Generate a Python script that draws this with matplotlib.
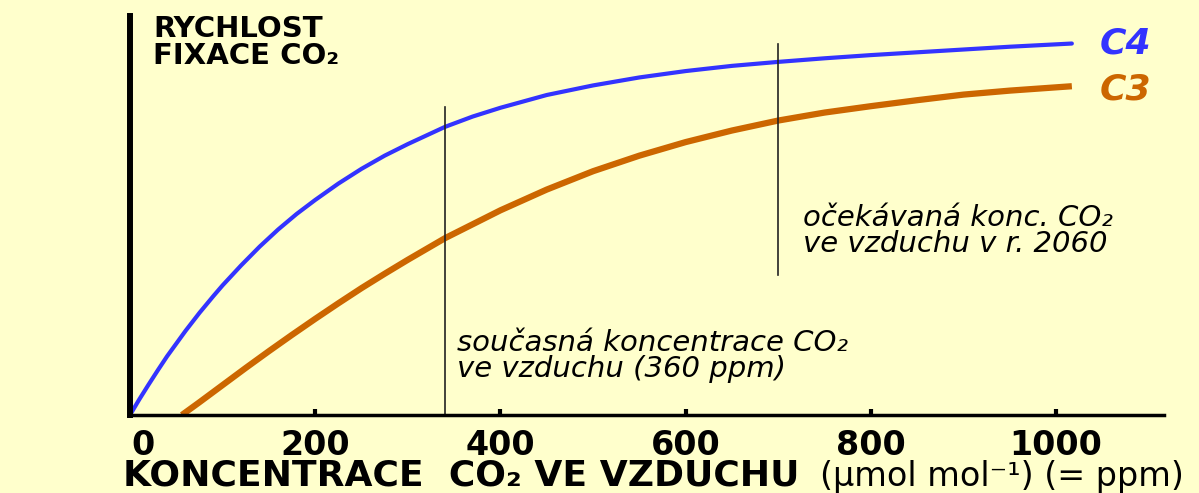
import matplotlib.pyplot as plt
from matplotlib.transforms import ScaledTranslation

# values (y in relative units 0-100, x in ppm)
c4_x = [0, 10, 20, 30, 40, 50, 60, 75, 90, 100, 120, 140, 160, 180, 200, 225, 250, 275,
        300, 340, 370, 400, 450, 500, 550, 600, 650, 700, 750, 800, 850, 900, 950, 1017]
c4_y = [0, 3.9, 7.6, 11.2, 14.7, 17.9, 21.1, 25.6, 29.8, 32.5, 37.5, 42.2, 46.5, 50.4,
        53.9, 58.0, 61.7, 65.0, 67.9, 72.2, 74.8, 77.0, 80.2, 82.6, 84.6, 86.2, 87.5,
        88.5, 89.4, 90.2, 90.9, 91.6, 92.3, 93.1]

c3_x = [56, 75, 100, 125, 150, 175, 200, 225, 250, 275, 300, 340, 400, 450, 500, 550,
        600, 650, 700, 750, 800, 850, 900, 950, 1017]
c3_y = [0, 3.2, 7.5, 11.8, 16.0, 20.1, 24.1, 28.0, 31.8, 35.4, 38.9, 44.3, 51.3, 56.5,
        61.1, 65.0, 68.4, 71.3, 73.8, 75.8, 77.4, 78.9, 80.3, 81.3, 82.4]

now_x = 340              # current concentration marker
now_span = [0, 77.2]
future_x = 700           # expected concentration in 2060
future_span = [35.1, 93.0]

tick_vals = [0, 200, 400, 600, 800, 1000]
tick_labels = ['0', '200', '400', '600', '800', '1000']

bg = '#ffffcc'
blue = '#3333ff'
orange = '#cc6600'

W, H = 1199, 493


def fx(px):
    return px / W


def fy(py):
    return 1 - py / H


fig = plt.figure(figsize=(W / 100, H / 100), dpi=100, facecolor=bg)
ax = fig.add_axes([fx(130), fy(415), fx(1164) - fx(130), fy(16) - fy(415)])
ax.set_facecolor(bg)

ax.plot(c4_x, c4_y, color=blue, lw=3, solid_capstyle='round', solid_joinstyle='round')
ax.plot(c3_x, c3_y, color=orange, lw=4.5, solid_capstyle='butt', solid_joinstyle='round')
ax.plot([now_x, now_x], now_span, color='#222222', lw=1.2)
ax.plot([future_x, future_x], future_span, color='#222222', lw=1.2)

ax.set_xlim(0, 1116.5)
ax.set_ylim(0, 100)

for s in ['top', 'right']:
    ax.spines[s].set_visible(False)
ax.spines['left'].set_linewidth(4.3)
ax.spines['bottom'].set_linewidth(2.5)

ax.set_yticks([])
ax.set_xticks(tick_vals)
ax.set_xticklabels(tick_labels, fontsize=24, fontweight='bold')
ax.tick_params(axis='x', direction='in', length=4.5, width=3, pad=10)
lab0 = ax.get_xticklabels()[0]
lab0.set_transform(lab0.get_transform() + ScaledTranslation(0.13, 0, fig.dpi_scale_trans))

# axis titles (va='baseline' puts the last line on the given y)
fig.text(fx(153), fy(64), 'RYCHLOST\nFIXACE CO\u2082', fontsize=21, fontweight='bold',
         va='baseline', linespacing=0.95)
fig.text(fx(123), fy(486), 'KONCENTRACE  CO\u2082 VE VZDUCHU', fontsize=26,
         fontweight='bold', va='baseline')
fig.text(fx(820), fy(486), '(\u00b5mol mol\u207b\u00b9) (= ppm)', fontsize=24, va='baseline')

# annotations
fig.text(fx(457), fy(377), 'současná koncentrace CO\u2082\nve vzduchu (360 ppm)', fontsize=21,
         style='italic', va='baseline', linespacing=0.9)
fig.text(fx(803), fy(252), 'očekávaná konc. CO\u2082\nve vzduchu v r. 2060', fontsize=21,
         style='italic', va='baseline', linespacing=0.92)

fig.text(fx(1100), fy(53), 'C4', fontsize=26, fontweight='bold', style='italic',
         color=blue, va='baseline')
fig.text(fx(1100), fy(100), 'C3', fontsize=26, fontweight='bold', style='italic',
         color=orange, va='baseline')

fig.savefig('out.png', dpi=100, facecolor=bg)
